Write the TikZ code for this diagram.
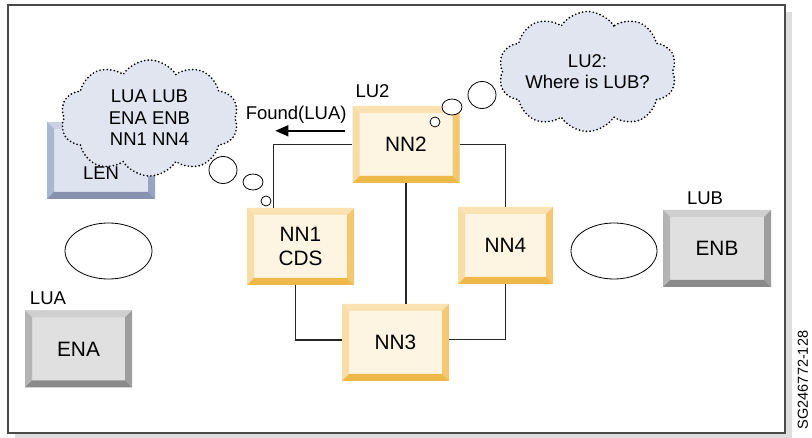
\documentclass[tikz,border=0pt]{standalone}
\usepackage{fontspec}
\setmainfont{Liberation Sans}
\usetikzlibrary{arrows.meta, shapes.symbols, shapes.geometric}
\definecolor{cNNface}{HTML}{FDF5E2}
\definecolor{cNNtop}{HTML}{FBE2B3}
\definecolor{cNNleft}{HTML}{F9DDA6}
\definecolor{cNNright}{HTML}{F4C872}
\definecolor{cNNbot}{HTML}{EFB94A}
\definecolor{cENface}{HTML}{E0E0E0}
\definecolor{cENtop}{HTML}{CFCFCF}
\definecolor{cENleft}{HTML}{B4B4B4}
\definecolor{cENright}{HTML}{9E9E9E}
\definecolor{cENbot}{HTML}{8A8A8A}
\definecolor{cLNface}{HTML}{DDE3EF}
\definecolor{cLNtop}{HTML}{C9D1E3}
\definecolor{cLNleft}{HTML}{AAB7D2}
\definecolor{cLNright}{HTML}{98A4C1}
\definecolor{cLNbot}{HTML}{8692AE}
\definecolor{cCloud}{HTML}{E1E5F0}
\definecolor{cFrame}{HTML}{4A4A4A}

% bevelled edges of a box: top, left, right, bottom
\newcommand\bevel[4]{%
  \fill[#1] (path picture bounding box.north west) -- (path picture bounding box.north east)
    -- ([shift={(-7pt,-7pt)}]path picture bounding box.north east)
    -- ([shift={(7pt,-7pt)}]path picture bounding box.north west) -- cycle;
  \fill[#2] (path picture bounding box.north west) -- (path picture bounding box.south west)
    -- ([shift={(7pt,7pt)}]path picture bounding box.south west)
    -- ([shift={(7pt,-7pt)}]path picture bounding box.north west) -- cycle;
  \fill[#3] (path picture bounding box.north east) -- (path picture bounding box.south east)
    -- ([shift={(-7pt,7pt)}]path picture bounding box.south east)
    -- ([shift={(-7pt,-7pt)}]path picture bounding box.north east) -- cycle;
  \fill[#4] (path picture bounding box.south west) -- (path picture bounding box.south east)
    -- ([shift={(-7pt,7pt)}]path picture bounding box.south east)
    -- ([shift={(7pt,7pt)}]path picture bounding box.south west) -- cycle;}

\begin{document}
\begin{tikzpicture}[
    x=1pt, y=-1pt, font=\fontsize{20.8}{24}\selectfont,
    box/.style={rectangle, inner sep=0pt, align=center,
                minimum width=107, minimum height=77},
    nnbox/.style={box, fill=cNNface,
                  path picture={\bevel{cNNtop}{cNNleft}{cNNright}{cNNbot}}},
    enbox/.style={box, fill=cENface,
                  path picture={\bevel{cENtop}{cENleft}{cENright}{cENbot}}},
    lenbox/.style={box, fill=cLNface,
                   path picture={\bevel{cLNtop}{cLNleft}{cLNright}{cLNbot}}},
    thought/.style={cloud, cloud puffs=10, cloud puff arc=115, cloud ignores aspect,
                    fill=cCloud, draw=black, line width=1.9pt, line cap=round,
                    dash pattern=on 0pt off 3.6pt, align=center, inner sep=0pt,
                    font=\fontsize{18.5}{21.5}\selectfont},
    bubble/.style={ellipse, draw=black, line width=0.8pt, fill=white, inner sep=0pt},
    link/.style={draw=black!85, line width=1.4pt},
    msg/.style={-{Triangle[length=13pt, width=11pt]}, line width=1.5pt, black},
    lbl/.style={font=\fontsize{18.5}{21}\selectfont, inner sep=0pt},
]
\useasboundingbox (0,0) rectangle (812,438);

% ===================== frame =====================
\fill[black!13] (15,12) rectangle (792,440);
\draw[cFrame, line width=1.6pt, fill=white] (8,5) rectangle (785,433);
\node[lbl, font=\fontsize{14.5}{17}\selectfont, rotate=90] (sg) at (803,380) {SG246772-128};

% ===================== network nodes =====================
\node[nnbox] (nn2) at (406,144.5) {NN2};
\node[nnbox] (nn1) at (300.5,246.5) {NN1\\CDS};
\node[nnbox] (nn3) at (395.5,342.5) {NN3};
\node[nnbox, minimum width=95] (nn4) at (505.5,245.5) {NN4};
\node[lbl, anchor=south west] (lu2) at ([shift={(3pt,8pt)}]nn2.north west) {LU2};

\draw[link] (nn2.west) -| ([xshift=-27pt]nn1.north);
\draw[link] (nn2.east) -| (nn4.north);
\draw[link] (nn2.south) -- (nn2.south |- nn3.north);
\draw[link] ([xshift=-5pt]nn1.south) |- ([yshift=2.5pt]nn3.west);
\draw[link] ([yshift=3pt]nn3.east) -| (nn4.south);

% ===================== end nodes =====================
\node[enbox] (ena) at (78.5,349) {ENA};
\node[lbl, anchor=south west] (lua) at ([shift={(5pt,5pt)}]ena.north west) {LUA};
\node[enbox, minimum width=108] (enb) at (717,248.5) {ENB};
\node[lbl, anchor=south west] (lub) at ([shift={(24pt,5pt)}]enb.north west) {LUB};
\node[lenbox, minimum width=108, font=\fontsize{18.5}{21}\selectfont] (len) at (101,160.5)
      {\raisebox{-19pt}[0pt][0pt]{LEN}};

\node[bubble, minimum width=87, minimum height=56] (e1) at (108.5,251) {};
\node[bubble, minimum width=86, minimum height=56] (e2) at (614,251) {};

% ===================== directory search =====================
\draw[msg] ([shift={(-7pt,-25pt)}]nn2.north west) -- ++(-70,0)
      node[lbl, pos=0, anchor=south east, xshift=2pt, yshift=7pt] (found) {Found(LUA)};

% ===================== thoughts =====================
\node[thought, minimum width=178, minimum height=116] (tlen) at (149.5,118)
      {LUA LUB\\ENA ENB\\NN1 NN4};
\node[bubble, minimum width=28, minimum height=27] (t1) at (223,170) {};
\node[bubble, minimum width=20, minimum height=16] (t2) at (253,182) {};
\node[bubble, minimum width=10, minimum height=10] (t3) at (266,201) {};

\node[thought, minimum width=178, minimum height=120] (tnn2) at (587.5,71.5)
      {LU2:\\Where is LUB?};
\node[bubble, minimum width=28, minimum height=27] (s1) at (482,95) {};
\node[bubble, minimum width=20, minimum height=16] (s2) at (452,107) {};
\node[bubble, minimum width=10, minimum height=10] (s3) at (435,122) {};

\end{tikzpicture}
\end{document}
